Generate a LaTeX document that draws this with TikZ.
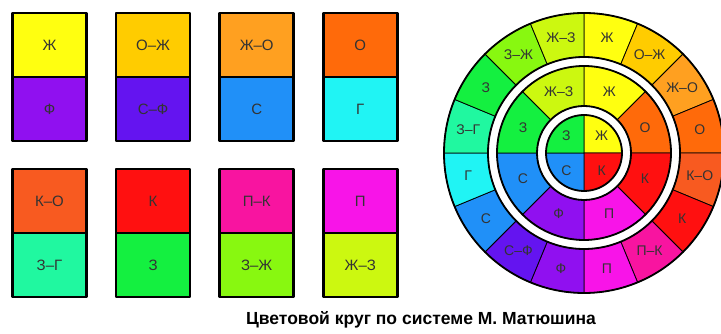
\documentclass[tikz,border=0pt]{standalone}
\usepackage{fontspec}
\setmainfont{Liberation Sans}
\usetikzlibrary{positioning}
\definecolor{cZh}{HTML}{FFFF10}
\definecolor{cOZh}{HTML}{FFCC00}
\definecolor{cZhO}{HTML}{FFA020}
\definecolor{cO}{HTML}{FF6A0A}
\definecolor{cKO}{HTML}{F85A20}
\definecolor{cK}{HTML}{FF1010}
\definecolor{cPK}{HTML}{F814A0}
\definecolor{cP}{HTML}{F814E8}
\definecolor{cF}{HTML}{9010F0}
\definecolor{cSF}{HTML}{6414F0}
\definecolor{cS}{HTML}{2090F8}
\definecolor{cG}{HTML}{20F4F4}
\definecolor{cZG}{HTML}{20F8A0}
\definecolor{cZ}{HTML}{14F040}
\definecolor{cZZh}{HTML}{88F810}
\definecolor{cZhZ}{HTML}{CCF810}

\begin{document}
\begin{tikzpicture}[x=1pt, y=1pt, line join=round,
  half/.style={draw, line width=2.6pt, minimum width=74pt, minimum height=64pt, inner sep=0pt, outer sep=0pt, text=black!80, font=\fontsize{15}{15}\selectfont},
  lbl/.style={text=black!80, inner sep=0pt, font=\fontsize{14}{14}\selectfont}]
 \useasboundingbox (0,0) rectangle (721,334);
 % Boxes
 \foreach \ucol/\utxt/\dcol/\dtxt [count=\i] in {cZh/Ж/cF/Ф, cOZh/О–Ж/cSF/С–Ф, cZhO/Ж–О/cS/С, cO/О/cG/Г, cKO/К–О/cZG/З–Г, cK/К/cZ/З, cPK/П–К/cZZh/З–Ж, cP/П/cZhZ/Ж–З} {
  \pgfmathsetmacro\bx{49.5+103.6*mod(\i-1,4)}
  \pgfmathsetmacro\by{\i<5 ? 289 : 133}
  \node[half, fill=\ucol] (top\i) at (\bx,\by) {\utxt};
  \node[half, fill=\dcol, below=0pt of top\i] (bot\i) {\dtxt};
 }
 % Colour circle
 \begin{scope}[shift={(584,181)}]
  % outer ring
  \foreach \col/\txt [count=\n] in {cZh/Ж, cOZh/О–Ж, cZhO/Ж–О, cO/О, cKO/К–О, cK/К, cPK/П–К, cP/П, cF/Ф, cSF/С–Ф, cS/С, cG/Г, cZG/З–Г, cZ/З, cZZh/З–Ж, cZhZ/Ж–З} {
   \pgfmathsetmacro\aa{112.5-22.5*\n}
   \pgfmathsetmacro\ab{90-22.5*\n}
   \pgfmathsetmacro\am{101.25-22.5*\n}
   \filldraw[fill=\col, line width=0.8pt] (\aa:140) arc[start angle=\aa, end angle=\ab, radius=140] -- (\ab:96) arc[start angle=\ab, end angle=\aa, radius=96] -- cycle;
   \node[lbl] (o\n) at (\am:118) {\txt};
  }
  % middle ring
  \foreach \col/\txt [count=\n] in {cZh/Ж, cO/О, cK/К, cP/П, cF/Ф, cS/С, cZ/З, cZhZ/Ж–З} {
   \pgfmathsetmacro\aa{135-45*\n}
   \pgfmathsetmacro\ab{90-45*\n}
   \pgfmathsetmacro\am{112.5-45*\n}
   \filldraw[fill=\col, line width=0.8pt] (\aa:87) arc[start angle=\aa, end angle=\ab, radius=87] -- (\ab:47) arc[start angle=\ab, end angle=\aa, radius=47] -- cycle;
   \node[lbl] (m\n) at (\am:66) {\txt};
  }
  % centre
  \foreach \col/\txt [count=\n] in {cZh/Ж, cK/К, cS/С, cZ/З} {
   \pgfmathsetmacro\aa{180-90*\n}
   \pgfmathsetmacro\ab{90-90*\n}
   \pgfmathsetmacro\am{135-90*\n}
   \filldraw[fill=\col, line width=0.8pt] (0,0) -- (\aa:38) arc[start angle=\aa, end angle=\ab, radius=38] -- cycle;
   \node[lbl] (c\n) at (\am:25) {\txt};
  }
  \foreach \r in {38,47,87,96,140}
   \draw[line width=1.8pt] (0,0) circle[radius=\r];
 \end{scope}
 \node[font=\bfseries\fontsize{17.5}{17.5}\selectfont] (caption) at (421,14) {Цветовой круг по системе М. Матюшина};
\end{tikzpicture}
\end{document}
